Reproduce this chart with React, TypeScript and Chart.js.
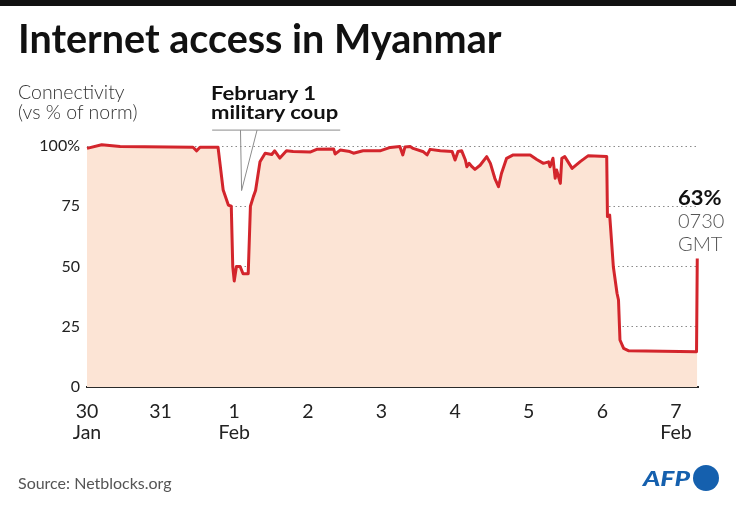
import React, { useEffect, useRef } from "react";
import { Chart, registerables } from "chart.js";

Chart.register(...registerables);

// Days elapsed since 30 Jan 00:00 (Myanmar connectivity, Netblocks)
const dayOffsets = [
  0.0, 0.2, 0.45, 1.44, 1.49, 1.535, 1.78, 1.85, 1.92, 1.96, 1.98, 2.0, 2.03, 2.08, 2.12, 2.19,
  2.22, 2.26, 2.29, 2.35, 2.42, 2.51, 2.55, 2.62, 2.71, 2.8, 3.03, 3.12, 3.35, 3.37, 3.44, 3.57,
  3.62, 3.75, 3.98, 4.12, 4.25, 4.29, 4.32, 4.39, 4.43, 4.57, 4.62, 4.66, 4.8, 4.96, 5.0, 5.04,
  5.09, 5.14, 5.16, 5.19, 5.23, 5.27, 5.34, 5.43, 5.48, 5.54, 5.59, 5.63, 5.7, 5.79, 6.02, 6.11,
  6.2, 6.27, 6.29, 6.33, 6.36, 6.38, 6.43, 6.45, 6.49, 6.59, 6.7, 6.81, 7.06, 7.07, 7.1, 7.11,
  7.15, 7.2, 7.22, 7.24, 7.29, 7.36, 8.28, 8.29,
];

// Connectivity, % of norm
const connectivity = [
  99, 100.5, 99.8, 99.5, 98, 99.5, 99.5, 81.7, 75.5, 75, 50, 44, 50, 50, 47, 47,
  75, 79, 81.5, 93.5, 97, 96.5, 98, 95, 98, 97.7, 97.5, 98.6, 98.8, 96.7, 98.3, 97.7,
  97, 98, 98, 99.4, 99.8, 96.3, 99.6, 99.8, 99, 97.6, 96.3, 98.6, 98, 97.7, 94.2, 97.7,
  98, 94.2, 91.4, 92.8, 91.4, 90.3, 92, 95.6, 92.8, 86.6, 83.1, 88.6, 94.9, 96.3, 96.3, 94.4,
  92.8, 93.4, 91.4, 94.9, 86.6, 90, 84.5, 94.9, 95.6, 90.7, 93.5, 96, 95.6, 70.7, 71.3, 67.2,
  49.9, 38.9, 36.1, 19.5, 16, 15, 14.6, 53.3,
];

const xTickDays = [0, 1, 2, 3, 4, 5, 6, 7, 8];
const xTickLabels = [["30", "Jan"], ["31"], ["1", "Feb"], ["2"], ["3"], ["4"], ["5"], ["6"], ["7", "Feb"]];
const yTickValues = [0, 25, 50, 75, 100];
const yTickLabels = ["0", "25", "50", "75", "100%"];

// Leader lines for the coup annotation (in data units)
const coupLeader = {
  lineFromDay: 1.7,
  lineToDay: 3.44,
  topValue: 106.6,
  leftDay: 2.085,
  rightDay: 2.31,
  apexDay: 2.1,
  apexValue: 81.5,
};

const FONT = "Lato, 'Noto Sans', sans-serif";

const leaderPlugin = {
  id: "coupLeader",
  afterDatasetsDraw(chart: any) {
    const { ctx, scales } = chart;
    const x = scales.x;
    const y = scales.y;
    const yTop = y.getPixelForValue(coupLeader.topValue);
    const ax = x.getPixelForValue(coupLeader.apexDay);
    const ay = y.getPixelForValue(coupLeader.apexValue);
    ctx.save();
    ctx.strokeStyle = "#8c8c8c";
    ctx.lineWidth = 1;
    ctx.beginPath();
    ctx.moveTo(x.getPixelForValue(coupLeader.lineFromDay), yTop);
    ctx.lineTo(x.getPixelForValue(coupLeader.lineToDay), yTop);
    ctx.moveTo(x.getPixelForValue(coupLeader.leftDay), yTop);
    ctx.lineTo(ax, ay);
    ctx.lineTo(x.getPixelForValue(coupLeader.rightDay), yTop);
    ctx.stroke();
    ctx.restore();
  },
};

function Txt(props: {
  x: number;
  base: number;
  size: number;
  weight?: number;
  color?: string;
  italic?: boolean;
  stretch?: number;
  children: React.ReactNode;
}) {
  const { x, base, size, weight = 400, color = "#222", italic = false, stretch = 1, children } = props;
  return (
    <div
      style={{
        position: "absolute",
        left: x,
        top: base - 0.887 * size,
        fontSize: size,
        lineHeight: `${size}px`,
        fontWeight: weight,
        fontStyle: italic ? "italic" : "normal",
        color,
        whiteSpace: "nowrap",
        fontFamily: FONT,
        transform: stretch !== 1 ? `scaleX(${stretch})` : undefined,
        transformOrigin: "left center",
      }}
    >
      {children}
    </div>
  );
}

export default function App() {
  const ref = useRef<HTMLCanvasElement>(null);

  useEffect(() => {
    const points = dayOffsets.map((d, i) => ({ x: d, y: connectivity[i] }));
    const chart = new Chart(ref.current as HTMLCanvasElement, {
      type: "line",
      data: {
        datasets: [
          {
            data: points,
            borderColor: "#d3252c",
            borderWidth: 3,
            backgroundColor: "#fce4d5",
            fill: "origin",
            pointRadius: 0,
            tension: 0,
            borderJoinStyle: "round",
            clip: false as any,
          },
        ],
      },
      options: {
        animation: false,
        responsive: false,
        maintainAspectRatio: false,
        layout: { padding: { left: 0, right: 38, top: 146, bottom: 0 } },
        plugins: { legend: { display: false }, tooltip: { enabled: false }, title: { display: false } },
        scales: {
          x: {
            type: "linear",
            min: 0,
            max: 8.3,
            afterFit: (s: any) => {
              s.height = 120;
            },
            afterBuildTicks: (s: any) => {
              s.ticks = xTickDays.map((v) => ({ value: v }));
            },
            ticks: {
              autoSkip: false,
              maxRotation: 0,
              padding: 6,
              color: "#222",
              font: { family: FONT, size: 19.5, lineHeight: 1.1 },
              callback: (v: any) => {
                const i = xTickDays.indexOf(Number(v));
                return i >= 0 ? xTickLabels[i] : "";
              },
            },
            grid: { display: false },
            border: { display: true, color: "#2a2a2a", width: 2 },
          },
          y: {
            type: "linear",
            min: 0,
            max: 100,
            afterFit: (s: any) => {
              s.width = 87;
            },
            afterBuildTicks: (s: any) => {
              s.ticks = yTickValues.map((v) => ({ value: v }));
            },
            ticks: {
              padding: 7,
              color: "#222",
              font: { family: FONT, size: 16 },
              callback: (v: any) => {
                const i = yTickValues.indexOf(Number(v));
                return i >= 0 ? yTickLabels[i] : "";
              },
            },
            grid: { color: "#8a8a8a", lineWidth: 1, drawTicks: false },
            border: { display: false, dash: [1.5, 3] },
          },
        },
      },
      plugins: [leaderPlugin],
    });
    return () => chart.destroy();
  }, []);

  return (
    <div
      style={{
        position: "absolute",
        left: 0,
        top: 0,
        width: 736,
        height: 507,
        background: "#fff",
        overflow: "hidden",
        fontFamily: FONT,
      }}
    >
      <div style={{ position: "absolute", left: 0, top: 0, width: 736, height: 6, background: "#111" }} />
      <canvas
        ref={ref}
        width={736}
        height={507}
        style={{ position: "absolute", left: 0, top: 0, width: 736, height: 507 }}
      />
      <Txt x={18} base={53} size={39.5} weight={700} color="#111">
        Internet access in Myanmar
      </Txt>
      <Txt x={18} base={99} size={19.5} weight={300} color="#333">
        Connectivity
      </Txt>
      <Txt x={18} base={119} size={19.5} weight={300} color="#333">
        (vs % of norm)
      </Txt>
      <Txt x={211} base={100} size={19.5} weight={700} color="#111" stretch={1.13}>
        February 1
      </Txt>
      <Txt x={211} base={119} size={19.5} weight={700} color="#111" stretch={1.13}>
        military coup
      </Txt>
      <Txt x={678} base={205} size={21} weight={700} color="#111" stretch={1.05}>
        63%
      </Txt>
      <Txt x={678} base={228} size={20} weight={300} color="#555">
        0730
      </Txt>
      <Txt x={678} base={250.5} size={20} weight={300} color="#555">
        GMT
      </Txt>
      <Txt x={18} base={489} size={16} weight={400} color="#555">
        Source: Netblocks.org
      </Txt>
      <Txt x={643} base={486} size={20} weight={900} italic color="#1560ae" stretch={1.32}>
        AFP
      </Txt>
      <div
        style={{
          position: "absolute",
          left: 693,
          top: 465,
          width: 26,
          height: 26,
          borderRadius: "50%",
          background: "#1560ae",
        }}
      />
    </div>
  );
}
